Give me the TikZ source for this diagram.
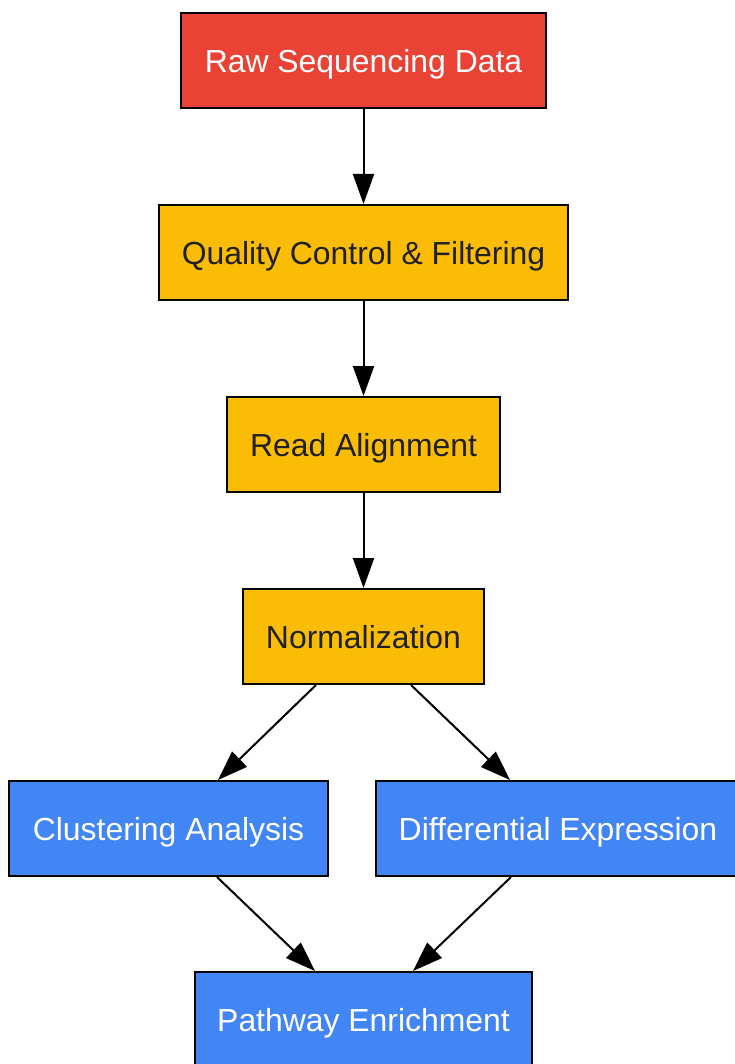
\documentclass[tikz,border=0pt]{standalone}
\usepackage{fontspec}
\setmainfont{Liberation Sans}
\usetikzlibrary{arrows.meta}
\definecolor{gred}{HTML}{EA4335}
\definecolor{gyellow}{HTML}{FBBC05}
\definecolor{gblue}{HTML}{4285F4}
\definecolor{gtext}{HTML}{202124}
\begin{document}
\begin{tikzpicture}[x=1pt,y=-1pt,
  box/.style={draw=black,line width=2pt,rectangle,inner sep=0pt,minimum height=95pt,
    text height=23.6pt,text depth=0pt,
    font=\fontsize{31.9}{36}\selectfont},
  redbox/.style={box,fill=gred,text=white},
  yelbox/.style={box,fill=gyellow,text=gtext},
  bluebox/.style={box,fill=gblue,text=white},
  link/.style={line width=2pt,-{Triangle[length=30pt 0 0,width=21pt 0 0]}}]
\useasboundingbox[fill=white] (0,0) rectangle (734,1064);
\node[redbox,minimum width=365pt] (raw) at (363.5,60.5) {Raw Sequencing Data};
\node[yelbox,minimum width=409pt] (qc) at (363.5,252.5) {Quality Control \& Filtering};
\node[yelbox,minimum width=273pt] (ra) at (363.5,444.5) {Read Alignment};
\node[yelbox,minimum width=241pt] (norm) at (363.5,636.5) {Normalization};
\node[bluebox,minimum width=319pt] (clus) at (168.5,828.5) {Clustering Analysis};
\node[bluebox,minimum width=364pt] (diff) at (558,828.5) {Differential Expression};
\node[bluebox,minimum width=337pt] (path) at (363.5,1019.5) {Pathway Enrichment};
\draw[link] (raw.south) -- (qc.north);
\draw[link] (qc.south) -- (ra.north);
\draw[link] (ra.south) -- (norm.north);
\draw[link] ([xshift=-47.5pt]norm.south) -- ([xshift=49.5pt]clus.north);
\draw[link] ([xshift=47.5pt]norm.south) -- ([xshift=-48pt]diff.north);
\draw[link] ([xshift=48.5pt]clus.south) -- ([xshift=-48.5pt]path.north);
\draw[link] ([xshift=-47pt]diff.south) -- ([xshift=49.5pt]path.north);
\end{tikzpicture}
\end{document}
